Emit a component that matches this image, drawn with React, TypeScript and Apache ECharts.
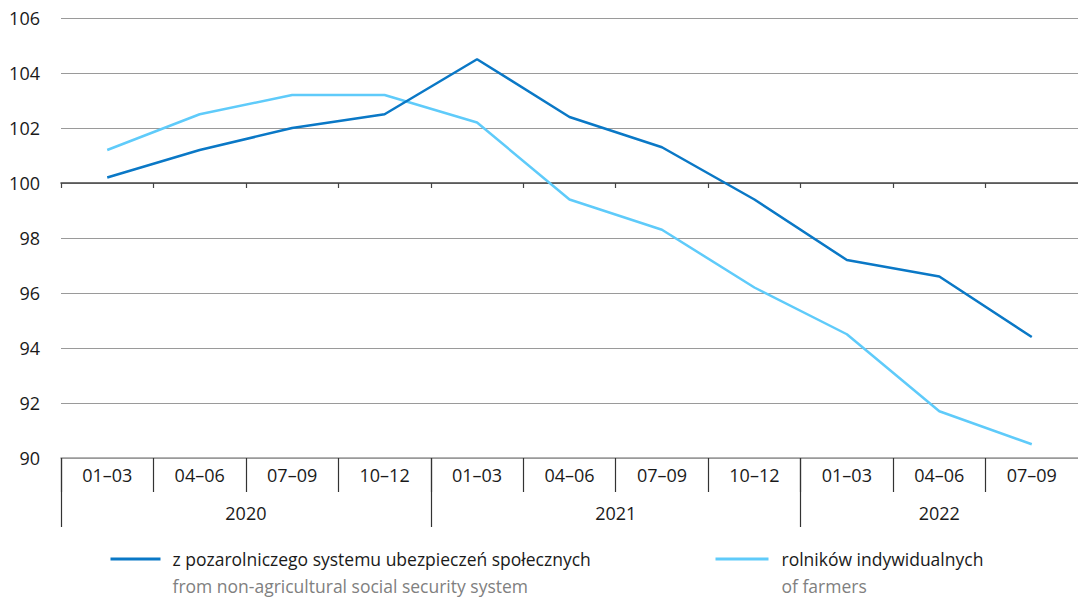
import React, { useEffect, useRef } from "react";
import * as echarts from "echarts";

const quarters = ["01–03", "04–06", "07–09", "10–12", "01–03", "04–06", "07–09", "10–12", "01–03", "04–06", "07–09"];
const years = ["2020", "2021", "2022"];
const yearStarts = [0, 4, 8];
const yearCenters = [2, 6, 9.5];
const nonAgri = [100.2, 101.2, 102.0, 102.5, 104.5, 102.4, 101.3, 99.4, 97.2, 96.6, 94.4];
const farmers = [101.2, 102.5, 103.2, 103.2, 102.2, 99.4, 98.3, 96.2, 94.5, 91.7, 90.5];
const seriesNames = ["z pozarolniczego systemu ubezpieczeń społecznych", "rolników indywidualnych"];
const seriesNamesEn = ["from non-agricultural social security system", "of farmers"];
const yMin = 90;
const yMax = 106;
const yStep = 2;
const baseline = 100;

const DARK = "#0a78c6";
const LIGHT = "#5fcbfa";
const FONT = "'Open Sans', sans-serif";

export default function App() {
  const ref = useRef<HTMLDivElement>(null);
  useEffect(() => {
    if (!ref.current) return;
    const chart = echarts.init(ref.current, undefined, { renderer: "svg" });
    const gridTop = 18;
    const gridHeight = 440;
    const baseOffset = -gridHeight * (baseline - yMin) / (yMax - yMin);
    const nQ = quarters.length;
    const qTicks = quarters.map((_, i) => i);
    const option: any = {
      animation: false,
      textStyle: { fontFamily: FONT },
      grid: { left: 61, right: 0, top: gridTop, height: gridHeight },
      xAxis: [
        {
          type: "category",
          data: quarters,
          position: "bottom",
          boundaryGap: true,
          axisLine: { show: true, onZero: false, lineStyle: { color: "#9a9a9a", width: 1.5 } },
          axisTick: { show: false },
          axisLabel: { fontSize: 18, color: "#1a1a1a", margin: 8, fontFamily: FONT },
          splitLine: { show: false },
        },
        {
          type: "value",
          min: 0,
          max: nQ,
          position: "bottom",
          axisLine: { show: false, onZero: false },
          axisTick: { show: true, customValues: qTicks, length: 34, lineStyle: { color: "#333", width: 1.2 } },
          axisLabel: {
            show: true,
            customValues: yearCenters,
            margin: 46,
            fontSize: 18,
            color: "#1a1a1a",
            fontFamily: FONT,
            formatter: (v: number) => {
              const i = yearCenters.indexOf(v);
              return i >= 0 ? years[i] : "";
            },
          },
          splitLine: { show: false },
        },
        {
          type: "value",
          min: 0,
          max: nQ,
          position: "bottom",
          axisLine: { show: false, onZero: false },
          axisTick: { show: true, customValues: yearStarts, length: 69, lineStyle: { color: "#333", width: 1.2 } },
          axisLabel: { show: false },
          splitLine: { show: false },
        },
        {
          type: "value",
          min: 0,
          max: nQ,
          position: "bottom",
          offset: baseOffset,
          axisLine: { show: true, onZero: false, lineStyle: { color: "#444", width: 1.5 } },
          axisTick: { show: true, customValues: qTicks, length: 5, lineStyle: { color: "#444", width: 1.2 } },
          axisLabel: { show: false },
          splitLine: { show: false },
        },
      ],
      yAxis: {
        type: "value",
        min: yMin,
        max: yMax,
        interval: yStep,
        axisLine: { show: false },
        axisTick: { show: false },
        axisLabel: { fontSize: 18, color: "#1a1a1a", margin: 21, fontFamily: FONT },
        splitLine: { show: true, lineStyle: { color: "#9a9a9a", width: 1.2 } },
      },
      series: [
        {
          name: seriesNames[0],
          type: "line",
          data: nonAgri,
          xAxisIndex: 0,
          symbol: "none",
          lineStyle: { color: DARK, width: 2.5 },
          itemStyle: { color: DARK },
          z: 3,
        },
        {
          name: seriesNames[1],
          type: "line",
          data: farmers,
          xAxisIndex: 0,
          symbol: "none",
          lineStyle: { color: LIGHT, width: 2.5 },
          itemStyle: { color: LIGHT },
          z: 2,
        },
      ],
      graphic: [
        {
          type: "group",
          left: 108,
          top: 550,
          children: [
            { type: "line", shape: { x1: 0, y1: 13, x2: 50, y2: 13 }, style: { stroke: DARK, lineWidth: 3 } },
            { type: "text", x: 62, y: 13, style: { text: seriesNames[0], fontSize: 17.5, fill: "#1a1a1a", fontFamily: FONT, verticalAlign: "middle" } },
            { type: "text", x: 62, y: 40, style: { text: seriesNamesEn[0], fontSize: 17.5, fill: "#808080", fontFamily: FONT, verticalAlign: "middle" } },
          ],
        },
        {
          type: "group",
          left: 713,
          top: 550,
          children: [
            { type: "line", shape: { x1: 0, y1: 13, x2: 53, y2: 13 }, style: { stroke: LIGHT, lineWidth: 3 } },
            { type: "text", x: 66, y: 13, style: { text: seriesNames[1], fontSize: 17.5, fill: "#1a1a1a", fontFamily: FONT, verticalAlign: "middle" } },
            { type: "text", x: 66, y: 40, style: { text: seriesNamesEn[1], fontSize: 17.5, fill: "#808080", fontFamily: FONT, verticalAlign: "middle" } },
          ],
        },
      ],
    };
    chart.setOption(option);
    return () => chart.dispose();
  }, []);
  return <div ref={ref} style={{ width: 1078, height: 599, position: "absolute", left: 0, top: 0 }} />;
}
